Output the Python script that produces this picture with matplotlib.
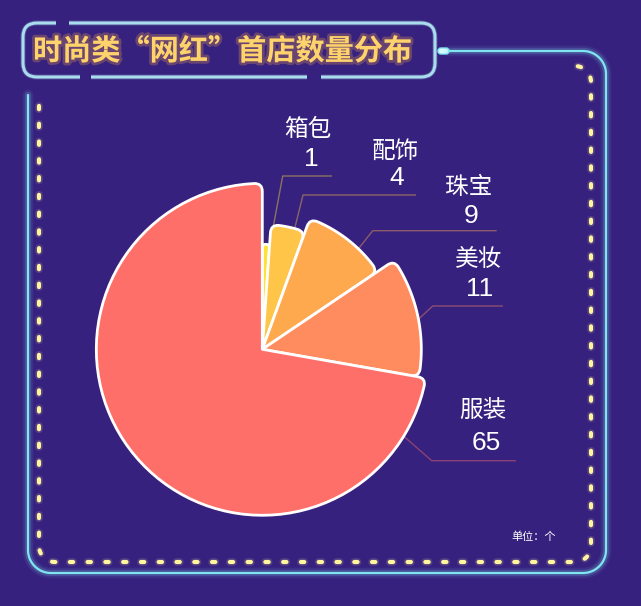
import numpy as np
import matplotlib
matplotlib.use("Agg")
import matplotlib.pyplot as plt
from matplotlib.path import Path
from matplotlib.patches import PathPatch, FancyBboxPatch, Rectangle
import matplotlib.patheffects as pe

plt.rcParams['font.family'] = ['Noto Sans CJK SC', 'DejaVu Sans']
plt.rcParams['lines.scale_dashes'] = False

# ---------------- data ----------------
categories = ['箱包', '配饰', '珠宝', '美妆', '服装']
values = [1, 4, 9, 11, 65]
rose_radius = [105, 125, 139, 159, 166]   # per-slice radius (px) as drawn in the rose chart
title = '时尚类“网红”首店数量分布'
unit_text = '单位：个'

# ---------------- style / layout ----------------
W, H = 641, 606
BG = '#37217F'
slice_colors = ['#FFE236', '#FFC548', '#FFA94F', '#FF8C5E', '#FF6F69']
center = (262.3, 349.3)
corner_r = 8
leader_anchor_deg = [4.2, 15.0, 43.7, 79.0, 121.6]
leader_elbow = [(282.7, 176), (303, 195), (372.7, 230.7), (432.7, 306), (431.7, 460.7)]
leader_end_x = [332, 416, 496.7, 503, 516]
name_pos = [(308, 129), (395, 151.7), (469, 188), (479, 260), (483, 410)]
num_pos = [(311, 159), (396.7, 178), (470.8, 215.8), (480, 289), (485.8, 442.5)]

fig = plt.figure(figsize=(W / 100, H / 100), dpi=100, facecolor=BG)
ax = fig.add_axes([0, 0, 1, 1])
ax.set_xlim(0, W)
ax.set_ylim(H, 0)
ax.axis('off')
ax.set_facecolor(BG)


def pt(r, a_deg):
    a = np.deg2rad(a_deg)
    return (center[0] + r * np.sin(a), center[1] - r * np.cos(a))


def rounded_wedge(r, a1, a2, c):
    span = np.deg2rad(a2 - a1) * r
    c = min(c, span / 2.5)
    dth = np.rad2deg(c / r)
    verts, codes = [center], [Path.MOVETO]
    verts.append(pt(r - c, a1)); codes.append(Path.LINETO)
    verts += [pt(r, a1), pt(r, a1 + dth)]; codes += [Path.CURVE3, Path.CURVE3]
    for a in np.linspace(a1 + dth, a2 - dth, 80)[1:]:
        verts.append(pt(r, a)); codes.append(Path.LINETO)
    verts += [pt(r, a2), pt(r - c, a2)]; codes += [Path.CURVE3, Path.CURVE3]
    verts.append(center); codes.append(Path.LINETO)
    verts.append(center); codes.append(Path.CLOSEPOLY)
    return Path(verts, codes)


def glow_effects(color, base_lw):
    return [pe.Stroke(linewidth=base_lw + 6, foreground=color, alpha=0.08),
            pe.Stroke(linewidth=base_lw + 3, foreground=color, alpha=0.18),
            pe.Normal()]


# ---------------- rose pie ----------------
total = sum(values)
start = 0.0
for i, (v, r) in enumerate(zip(values, rose_radius)):
    span = v / total * 360.0
    p = rounded_wedge(r, start, start + span, corner_r)
    ax.add_patch(PathPatch(p, facecolor=slice_colors[i], edgecolor='white',
                           linewidth=2, joinstyle='round', zorder=3))
    start += span

# labels + leader lines
for i, cat in enumerate(categories):
    sx, sy = pt(rose_radius[i] + 0.5, leader_anchor_deg[i])
    ex, ey = leader_elbow[i]
    ax.plot([sx, ex, leader_end_x[i]], [sy, ey, ey], color=slice_colors[i],
            alpha=0.42, lw=1.0, zorder=2, solid_capstyle='butt')
    ax.text(*name_pos[i], cat, color='white', fontsize=17, fontweight='medium',
            ha='center', va='center', zorder=5)
    ax.text(*num_pos[i], str(values[i]), color='white', fontsize=19,
            family='Liberation Sans', ha='center', va='center', zorder=5)

# ---------------- frame decoration ----------------
CYAN = '#7FE6F0'
BOX = '#A9DCEC'
YEL = '#FFF59E'

# title box
box = FancyBboxPatch((23, 23), 412, 54, boxstyle='round,pad=0,rounding_size=14',
                     facecolor='none', edgecolor=BOX, linewidth=2.2, zorder=4)
box.set_path_effects([pe.Stroke(linewidth=3.5, foreground=BOX, alpha=0.25), pe.Normal()])
ax.add_patch(box)
for (gx, gy, gw) in [(56, 23, 13), (80, 77, 11), (307, 77, 14)]:
    ax.add_patch(Rectangle((gx, gy - 3.5), gw, 7, facecolor=BG, edgecolor='none', zorder=4.5))

# knob
ax.add_patch(FancyBboxPatch((438, 48), 11, 6, boxstyle='round,pad=0,rounding_size=3',
                            facecolor='#D8FBFF', edgecolor=CYAN, linewidth=1, zorder=4))

# outer cyan line
def arc(cx, cy, r, a0, a1, n=30):
    t = np.deg2rad(np.linspace(a0, a1, n))
    return list(cx + r * np.cos(t)), list(cy + r * np.sin(t))

R = 23
xs, ys = [449, 606 - R], [51, 51]
ax_, ay_ = arc(606 - R, 51 + R, R, -90, 0); xs += ax_; ys += ay_
xs += [606]; ys += [573 - R]
ax_, ay_ = arc(606 - R, 573 - R, R, 0, 90); xs += ax_; ys += ay_
xs += [28 + R]; ys += [573]
ax_, ay_ = arc(28 + R, 573 - R, R, 90, 180); xs += ax_; ys += ay_
xs += [28]; ys += [95]
ln, = ax.plot(xs, ys, color=CYAN, lw=1.6, zorder=4, solid_capstyle='round')
ln.set_path_effects(glow_effects(CYAN, 1.6))

# yellow dashed line
R2 = 16
xs, ys = [], []
ax_, ay_ = arc(591 - R2, 66 + R2, R2, -80, 0); xs += ax_; ys += ay_
xs += [591]; ys += [562 - R2]
ax_, ay_ = arc(591 - R2, 562 - R2, R2, 0, 90); xs += ax_; ys += ay_
xs += [39 + R2]; ys += [562]
ax_, ay_ = arc(39 + R2, 562 - R2, R2, 90, 180); xs += ax_; ys += ay_
xs += [39]; ys += [93]
dl, = ax.plot(xs, ys, color=YEL, lw=3.0, zorder=4, dash_capstyle='round',
              linestyle=(0, (2.4, 10.4)))
dl.set_path_effects([pe.Stroke(linewidth=5.5, foreground=YEL, alpha=0.15), pe.Normal()])

# title
t = ax.text(33, 51, title, color='#FFD36B', fontsize=21, fontweight='bold',
            ha='left', va='center', zorder=6)
t.set_path_effects([pe.Stroke(linewidth=4, foreground='#FFB347', alpha=0.25), pe.Normal()])

# unit
ax.text(534, 537, unit_text, color='white', fontsize=8, fontweight='medium',
        ha='center', va='center', zorder=6)

fig.savefig('out.png', dpi=100, facecolor=BG)
